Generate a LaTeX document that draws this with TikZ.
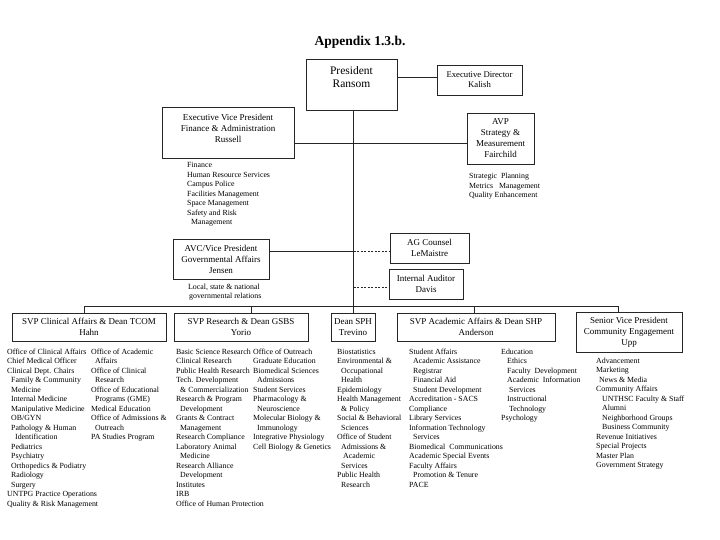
\documentclass[tikz,border=0pt]{standalone}
\usepackage{fontspec}
\setmainfont{Liberation Serif}
\newcommand\myia{\hspace*{4pt}}
\newcommand\myib{\hspace*{8pt}}
\begin{document}
\begin{tikzpicture}[x=1pt,y=-1pt]
\tikzset{
 box/.style={draw=black!85, line width=0.7pt, inner sep=0pt, align=center, font=\fontsize{9}{11}\selectfont},
 lst/.style={anchor=base west, inner sep=0pt, font=\fontsize{7.85}{9.5}\selectfont},
 conn/.style={draw=black!85, line width=0.7pt},
 dconn/.style={draw=black!85, line width=0.5pt, dash pattern=on 2pt off 1.5pt}
}
\useasboundingbox (0,0) rectangle (720,540);
\node[font=\bfseries\fontsize{13.5}{16}\selectfont, inner sep=0pt] (title) at (360,42) {Appendix 1.3.b.};

% boxes
\node[box, minimum width=91pt, minimum height=51pt, font=\fontsize{11.5}{13}\selectfont] (pres) at (351.5,84.5) {President\\Ransom\rule[-15pt]{0pt}{0pt}};
\node[box, minimum width=85pt, minimum height=30pt, font=\fontsize{8.7}{10}\selectfont] (exec) at (479.5,80) {Executive Director\\Kalish};
\node[box, minimum width=132pt, minimum height=51pt] (evp) at (228,132.5) {Executive Vice President\\Finance \& Administration\\Russell\rule[-8pt]{0pt}{0pt}};
\node[box, minimum width=67pt, minimum height=51pt] (avp) at (500.5,138.5) {AVP\\Strategy \&\\Measurement\\Fairchild};
\node[box, minimum width=96pt, minimum height=40pt] (avc) at (221,259) {AVC/Vice President\\Governmental Affairs\\Jensen};
\node[box, minimum width=79pt, minimum height=30pt] (ag) at (429.5,248) {AG Counsel\\LeMaistre};
\node[box, minimum width=74pt, minimum height=30pt] (aud) at (426,284) {Internal Auditor\\Davis};
\node[box, minimum width=154pt, minimum height=28pt] (clin) at (89,327) {SVP Clinical Affairs \& Dean TCOM\\Hahn};
\node[box, minimum width=134pt, minimum height=28pt] (res) at (241,327) {SVP Research \& Dean GSBS\\Yorio};
\node[box, minimum width=44pt, minimum height=28pt] (sph) at (353,327) {Dean SPH\\Trevino};
\node[box, minimum width=158pt, minimum height=28pt] (aca) at (476,327) {SVP Academic Affairs \& Dean SHP\\Anderson};
\node[box, minimum width=106pt, minimum height=40pt] (sen) at (629,332) {Senior Vice President\\Community Engagement\\Upp};

% connectors
\coordinate (vx) at (353.5,0);
\coordinate (y77) at (0,77);
\coordinate (y143) at (0,143);
\coordinate (y251) at (0,251);
\coordinate (y287) at (0,287);
\coordinate (busL) at (84,306);
\coordinate (busR) at (618,306);
\coordinate (dres) at (251,306);
\coordinate (daca) at (474,306);
\draw[conn] (pres.south -| vx) -- (sph.north -| vx);
\draw[conn] (pres.east |- y77) -- (exec.west |- y77);
\draw[conn] (evp.east |- y143) -- (avp.west |- y143);
\draw[conn] (avc.east |- y251) -- (vx |- y251);
\draw[dconn] (vx |- y251) -- (ag.west |- y251);
\draw[dconn] (vx |- y287) -- (aud.west |- y287);
\draw[conn] (busL) -- (busR);
\draw[conn] (busL) -- (busL |- clin.north);
\draw[conn] (dres) -- (dres |- res.north);
\draw[conn] (daca) -- (daca |- aca.north);
\draw[conn] (busR) -- (busR |- sen.north);

% lists
\node[lst] (evpl) at (187,168) {\begin{tabular}[t]{@{}l@{}}Finance\\Human Resource Services\\Campus Police\\Facilities Management\\Space Management\\Safety and Risk\\\myia Management\end{tabular}};
\node[lst] (avpl) at (469,179) {\begin{tabular}[t]{@{}l@{}}Strategic\ \ Planning\\Metrics\ \ \ Management\\Quality Enhancement\end{tabular}};
\node[lst] (avcl) at (188,289) {\begin{tabular}[t]{@{}l@{}}Local, state \& national\\\hspace*{1pt}governmental relations\end{tabular}};

\node[lst] (clin1) at (7,354) {\begin{tabular}[t]{@{}l@{}}Office of Clinical Affairs\\Chief Medical Officer\\Clinical Dept. Chairs\\\myia Family \& Community\\\myia Medicine\\\myia Internal Medicine\\\myia Manipulative Medicine\\\myia OB/GYN\\\myia Pathology \& Human\\\myib Identification\\\myia Pediatrics\\\myia Psychiatry\\\myia Orthopedics \& Podiatry\\\myia Radiology\\\myia Surgery\\UNTPG Practice Operations\\Quality \& Risk Management\end{tabular}};
\node[lst] (clin2) at (91,354) {\begin{tabular}[t]{@{}l@{}}Office of Academic\\\myia Affairs\\Office of Clinical\\\myia Research\\Office of Educational\\\myia Programs (GME)\\Medical Education\\Office of Admissions \&\\\myia Outreach\\PA Studies Program\end{tabular}};

\node[lst] (res1) at (176,354) {\begin{tabular}[t]{@{}l@{}}Basic Science Research\\Clinical Research\\Public Health Research\\Tech. Development\\\myia \& Commercialization\\Research \& Program\\\myia Development\\Grants \& Contract\\\myia Management\\Research Compliance\\Laboratory Animal\\\myia Medicine\\Research Alliance\\\myia Development\\Institutes\\IRB\\Office of Human Protection\end{tabular}};
\node[lst] (res2) at (253,354) {\begin{tabular}[t]{@{}l@{}}Office of Outreach\\Graduate Education\\Biomedical Sciences\\\myia Admissions\\Student Services\\Pharmacology \&\\\myia Neuroscience\\Molecular Biology \&\\\myia Immunology\\Integrative Physiology\\Cell Biology \& Genetics\end{tabular}};

\node[lst] (sphl) at (337,354) {\begin{tabular}[t]{@{}l@{}}Biostatistics\\Environmental \&\\\myia Occupational\\\myia Health\\Epidemiology\\Health Management\\\myia \& Policy\\Social \& Behavioral\\\myia Sciences\\Office of Student\\\myia Admissions \&\\\myia\hspace*{2pt}Academic\\\myia Services\\Public Health\\\myia Research\end{tabular}};

\node[lst] (aca1) at (409,354) {\begin{tabular}[t]{@{}l@{}}Student Affairs\\\myia Academic Assistance\\\myia Registrar\\\myia Financial Aid\\\myia Student Development\\Accreditation - SACS\\Compliance\\Library Services\\Information Technology\\\myia Services\\Biomedical\ \ Communications\\Academic Special Events\\Faculty Affairs\\\myia Promotion \& Tenure\\PACE\end{tabular}};
\node[lst] (aca2) at (501,354) {\begin{tabular}[t]{@{}l@{}}Education\\\hspace*{6pt}Ethics\\\hspace*{6pt}Faculty\ \ Development\\\hspace*{6pt}Academic\ \ Information\\\hspace*{8pt}Services\\\hspace*{6pt}Instructional\\\hspace*{8pt}Technology\\Psychology\end{tabular}};

\node[lst] (senl) at (596,363) {\begin{tabular}[t]{@{}l@{}}Advancement\\Marketing\\\hspace*{3pt}News \& Media\\Community Affairs\\\hspace*{6pt}UNTHSC Faculty \& Staff\\\hspace*{6pt}Alumni\\\hspace*{6pt}Neighborhood Groups\\\hspace*{6pt}Business Community\\Revenue Initiatives\\Special Projects\\Master Plan\\Government Strategy\end{tabular}};
\end{tikzpicture}
\end{document}
